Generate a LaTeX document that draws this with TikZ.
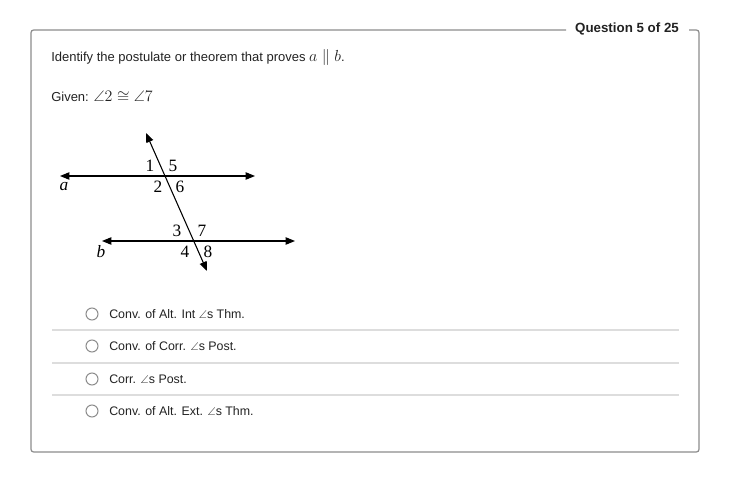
\documentclass[tikz,border=0pt]{standalone}
\usepackage{fontspec}
\usepackage{amsmath,amssymb}
\setmainfont{Liberation Sans}
\newfontfamily\figfont{Liberation Serif}
\usetikzlibrary{arrows.meta}
\definecolor{txtcol}{HTML}{222222}
\definecolor{framecol}{HTML}{8C8C8C}
\definecolor{sepcol}{HTML}{DDDDDD}
\tikzset{
  frame/.style={draw=framecol, line width=0.9pt, rounded corners=2pt},
  sep/.style={draw=sepcol, line width=0.9pt},
  question/.style={anchor=west, inner sep=0pt, text=txtcol, font=\fontsize{9.75}{11}\selectfont},
  legend/.style={inner sep=0pt, text=txtcol, font=\fontsize{10}{11}\selectfont\bfseries},
  option/.style={anchor=west, inner sep=0pt, text=txtcol, font=\fontsize{9.3}{11}\selectfont},
  radio/.style={circle, draw=framecol, line width=0.8pt, minimum size=9pt, inner sep=0pt},
  geoline/.style={line width=0.8pt, {Triangle[length=7pt,width=5.5pt]}-{Triangle[length=7pt,width=5.5pt]}},
  angnum/.style={inner sep=0pt, font=\figfont\fontsize{13}{13}\selectfont},
}
\newcommand{\angs}{{\fontsize{8.5}{9}\selectfont$\angle$}s}
\newcommand{\mathbig}[1]{{\fontsize{11.5}{12}\selectfont$#1$}}
\begin{document}
\begin{tikzpicture}[x=0.75pt, y=-0.75pt]
\useasboundingbox (0,0) rectangle (744,477);

% frame with legend
\draw[frame] (566,30) -- (31,30) -- (31,452) -- (699,452) -- (699,30) -- (689,30);
\node (legend) [legend] at (627,29) {Question 5 of 25};

% question text
\node (prompt) [question] at (51,58) {Identify the postulate or theorem that proves \mathbig{a \parallel b}.};
\node (given) [question] at (51,97) {Given: \mathbig{\angle 2 \cong \angle 7}};

% figure
\coordinate (aL) at (60,176);
\coordinate (aR) at (255,176);
\coordinate (bL) at (102,241);
\coordinate (bR) at (295,241);
\coordinate (tT) at (146,133);
\coordinate (tB) at (207,271);
\draw[geoline] (aL) -- (aR);
\draw[geoline] (bL) -- (bR);
\draw[geoline] (tT) -- (tB);
\node (la) [angnum] at (64,187) {\itshape a};
\node (lb) [angnum] at (101,252) {\itshape b};
\node (n1) [angnum] at (150,166) {1};
\node (n5) [angnum] at (173,166) {5};
\node (n2) [angnum] at (158,187) {2};
\node (n6) [angnum] at (180,187) {6};
\node (n3) [angnum] at (177,231) {3};
\node (n7) [angnum] at (202,231) {7};
\node (n4) [angnum] at (185,252) {4};
\node (n8) [angnum] at (208,252) {8};

% options
\node (r1) [radio] at (92,314) {};
\node (o1) [option] at (109,314) {Conv. of Alt. Int \angs{} Thm.};
\draw[sep] (52,330) -- (679,330);
\node (r2) [radio] at (92,346) {};
\node (o2) [option] at (109,346) {Conv. of Corr. \angs{} Post.};
\draw[sep] (52,363) -- (679,363);
\node (r3) [radio] at (92,379) {};
\node (o3) [option] at (109,379) {Corr. \angs{} Post.};
\draw[sep] (52,395) -- (679,395);
\node (r4) [radio] at (92,411) {};
\node (o4) [option] at (109,411) {Conv. of Alt. Ext. \angs{} Thm.};
\end{tikzpicture}
\end{document}
